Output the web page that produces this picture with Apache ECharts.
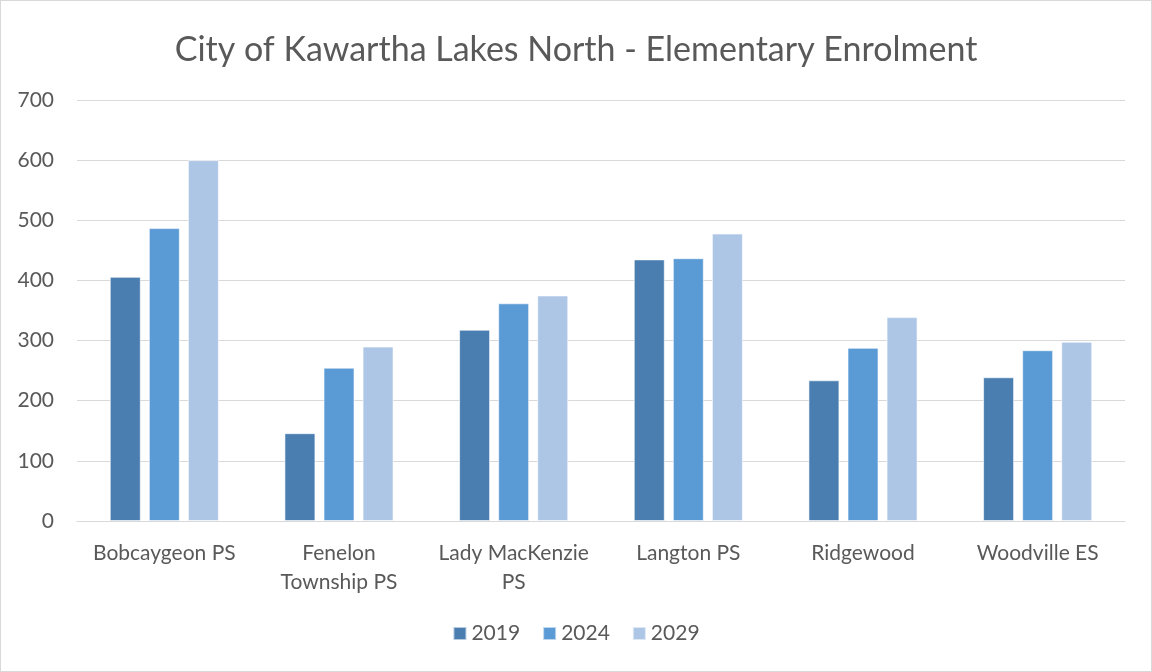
<!DOCTYPE html>
<html lang="en">
<head>
    <meta charset="UTF-8">
    <title>City of Kawartha Lakes North - Elementary Enrolment</title>
    <style>
        html, body { margin: 0; padding: 0; background: #fff; }
        #chart { width: 1150px; height: 670px; border: 1px solid #d9d9d9; }
    </style>
</head>
<body>
<div id="chart"></div>
<script src="https://cdn.jsdelivr.net/npm/echarts@6/dist/echarts.min.js"></script>
<script>
    /* schools */
    var schools = ['Bobcaygeon PS', 'Fenelon\nTownship PS', 'Lady MacKenzie\nPS', 'Langton PS', 'Ridgewood', 'Woodville ES'];
    /* enrolment per year */
    var years = ['2019', '2024', '2029'];
    var y2019 = [406, 146, 318, 435, 234, 239];
    var y2024 = [487, 255, 362, 437, 288, 284];
    var y2029 = [600, 290, 375, 478, 339, 298];
    var colors = ['#4a7eb0', '#5b9bd5', '#adc6e6'];

    var chart = echarts.init(document.getElementById('chart'));
    var font = 'Lato, "Open Sans", sans-serif';

    function makeBar(name, data, color) {
        return {
            name: name,
            type: 'bar',
            barWidth: 31,
            barGap: '26%',
            itemStyle: {
                color: color,
                borderColor: 'rgba(255,255,255,0.6)',
                borderWidth: 1
            },
            data: data
        };
    }

    var option = {
        textStyle: { fontFamily: font },
        title: {
            text: 'City of Kawartha Lakes North - Elementary Enrolment',
            left: 'center',
            top: 27,
            textStyle: {
                color: '#595959',
                fontSize: 34,
                fontWeight: 'normal',
                fontFamily: font
            }
        },
        legend: {
            data: years,
            bottom: 22,
            left: 'center',
            itemWidth: 13,
            itemHeight: 13,
            itemGap: 22,
            icon: 'rect',
            textStyle: { color: '#595959', fontSize: 21, fontFamily: font }
        },
        grid: {
            left: 76,
            right: 26,
            top: 99,
            bottom: 150
        },
        xAxis: {
            type: 'category',
            data: schools,
            axisLine: { lineStyle: { color: '#d9d9d9', width: 1 } },
            axisTick: { show: false },
            axisLabel: {
                interval: 0,
                color: '#595959',
                fontSize: 21,
                lineHeight: 29,
                margin: 18,
                fontFamily: font
            }
        },
        yAxis: {
            type: 'value',
            min: 0,
            max: 700,
            interval: 100,
            axisLine: { show: false },
            axisTick: { show: false },
            axisLabel: { color: '#595959', fontSize: 21, margin: 23, fontFamily: font },
            splitLine: { lineStyle: { color: '#d9d9d9', width: 1 } }
        },
        color: colors,
        series: [
            makeBar('2019', y2019, colors[0]),
            makeBar('2024', y2024, colors[1]),
            makeBar('2029', y2029, colors[2])
        ]
    };
    chart.setOption(option);
</script>
</body>
</html>
